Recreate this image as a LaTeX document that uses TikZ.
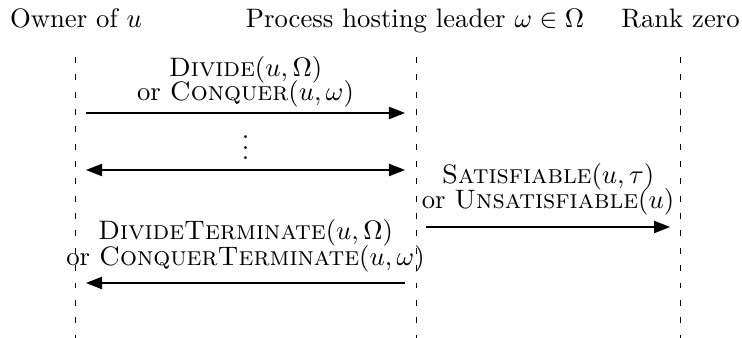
\documentclass[tikz,border=0pt]{standalone}
\usetikzlibrary{arrows.meta}
\begin{document}
\begin{tikzpicture}[x=0.3747pt,y=-0.3747pt,
  lifeline/.style={dash pattern=on 2.2pt off 4.3pt, line width=0.35pt},
  msg/.style={-{Triangle[length=6pt,width=4.6pt]}, line width=0.45pt},
  dmsg/.style={{Triangle[length=6pt,width=4.6pt]}-{Triangle[length=6pt,width=4.6pt]}, line width=0.45pt},
  head/.style={inner sep=0pt, anchor=base},
  lbl/.style={inner sep=0pt, align=center, anchor=base}]
\useasboundingbox (0,0) rectangle (742,338);
% headings
\node[head] (h1) at (76,28) {Owner of $u$};
\node[head] (h2) at (415,28) {Process hosting leader $\omega\in\Omega$};
\node[head] (h3) at (680.5,28) {Rank zero};
% lifelines
\coordinate (a1) at (75,57);  \coordinate (b1) at (75,338);
\coordinate (a2) at (416,57); \coordinate (b2) at (416,338);
\coordinate (a3) at (680,57); \coordinate (b3) at (680,338);
\draw[lifeline] (a1) -- (b1);
\draw[lifeline] (a2) -- (b2);
\draw[lifeline] (a3) -- (b3);
% message 1
\coordinate (m1s) at (86,113); \coordinate (m1e) at (405,113);
\draw[msg] (m1s) -- (m1e);
\node[lbl] (t1a) at (245.5,77) {\textsc{Divide}$(u,\Omega)$};
\node[lbl] (t1b) at (245.5,101) {or \textsc{Conquer}$(u,\omega)$};
% message 2 (dots)
\coordinate (m2s) at (86,170); \coordinate (m2e) at (405,170);
\draw[dmsg] (m2s) -- (m2e);
\node[inner sep=0pt, anchor=base] (dots) at (245.5,160) {$\vdots$};
% message 3
\coordinate (m3s) at (426,227); \coordinate (m3e) at (670,227);
\draw[msg] (m3s) -- (m3e);
\node[lbl] (t3a) at (548,184) {\textsc{Satisfiable}$(u,\tau)$};
\node[lbl] (t3b) at (548,209) {or \textsc{Unsatisfiable}$(u)$};
% message 4
\coordinate (m4s) at (405,283); \coordinate (m4e) at (86,283);
\draw[msg] (m4s) -- (m4e);
\node[lbl] (t4a) at (245.5,240) {\textsc{DivideTerminate}$(u,\Omega)$};
\node[lbl] (t4b) at (245.5,266) {or \textsc{ConquerTerminate}$(u,\omega)$};
\end{tikzpicture}
\end{document}
